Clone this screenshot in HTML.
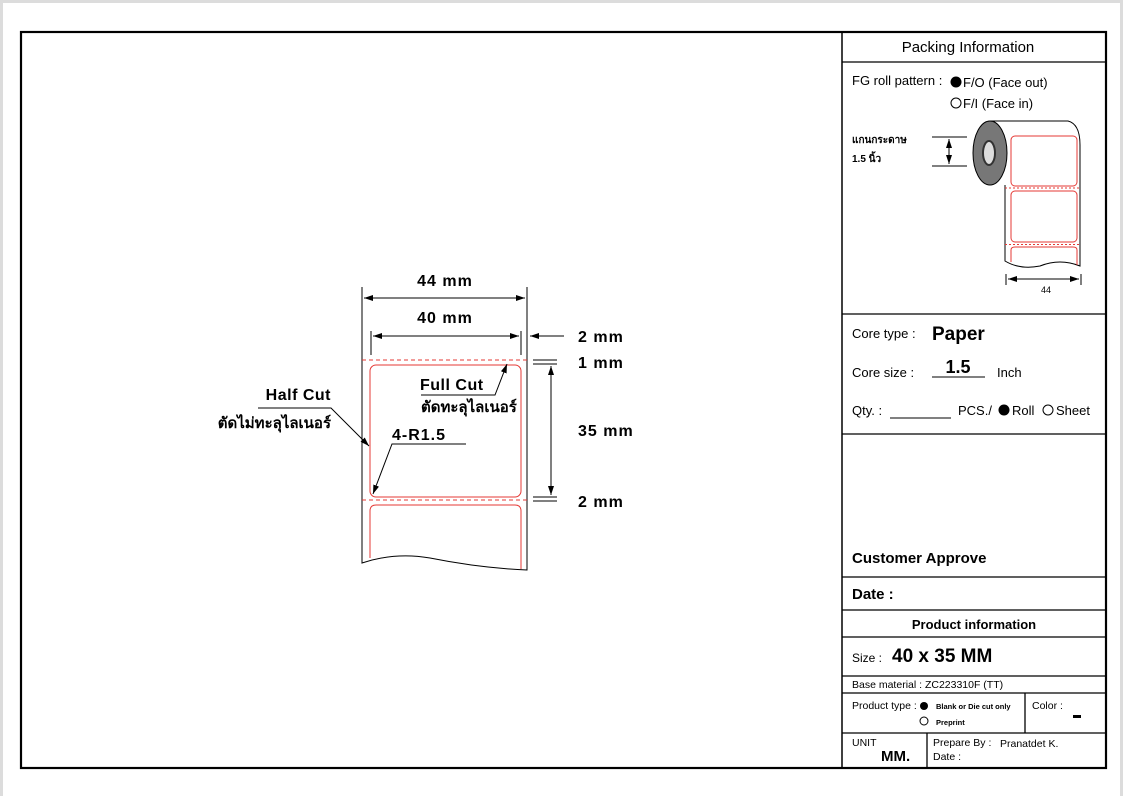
<!DOCTYPE html>
<html><head><meta charset="utf-8"><style>
html,body{margin:0;padding:0;background:#fff;}
svg{display:block;}
text{font-family:"Liberation Sans","Noto Sans CJK SC",sans-serif;}
.th{font-family:"Liberation Sans","Noto Sans CJK SC","WenQuanYi Zen Hei",sans-serif;}
</style></head><body>
<svg width="1123" height="796" viewBox="0 0 1123 796" xmlns="http://www.w3.org/2000/svg">
<defs>
<marker id="a" markerWidth="10" markerHeight="8" refX="9" refY="4" orient="auto" markerUnits="userSpaceOnUse"><path d="M0,1 L9,4 L0,7 Z" fill="#000"/></marker>
<marker id="b" markerWidth="10" markerHeight="8" refX="1" refY="4" orient="auto" markerUnits="userSpaceOnUse"><path d="M10,1 L1,4 L10,7 Z" fill="#000"/></marker>
</defs>
<rect x="0" y="0" width="1123" height="3" fill="#dcdcdc"/>
<rect x="0" y="0" width="3" height="796" fill="#dcdcdc"/>
<rect x="1120" y="0" width="3" height="796" fill="#dcdcdc"/>
<rect x="21" y="32" width="1085" height="736" fill="none" stroke="#000" stroke-width="2.2"/>
<line x1="842" y1="32" x2="842" y2="768" stroke="#000" stroke-width="1.5"/>
<g stroke="#000" stroke-width="1.3">
<line x1="842" y1="62" x2="1106" y2="62"/>
<line x1="842" y1="314" x2="1106" y2="314"/>
<line x1="842" y1="434" x2="1106" y2="434"/>
<line x1="842" y1="577" x2="1106" y2="577"/>
<line x1="842" y1="610" x2="1106" y2="610"/>
<line x1="842" y1="637" x2="1106" y2="637"/>
<line x1="842" y1="676" x2="1106" y2="676"/>
<line x1="842" y1="693" x2="1106" y2="693"/>
<line x1="842" y1="733" x2="1106" y2="733"/>
<line x1="1025" y1="693" x2="1025" y2="733"/>
<line x1="927" y1="733" x2="927" y2="768"/>
</g>
<text x="968" y="52" font-size="15" text-anchor="middle">Packing Information</text>
<text x="852" y="85" font-size="13">FG roll pattern :</text>
<circle cx="956" cy="82" r="5.5" fill="#000"/>
<text x="963" y="87" font-size="13">F/O (Face out)</text>
<circle cx="956" cy="103" r="5" fill="none" stroke="#000"/>
<text x="963" y="108" font-size="13">F/I (Face in)</text>
<text x="852" y="143" font-size="10" font-weight="bold" class="th">แกนกระดาษ</text>
<text x="852" y="162" font-size="10" font-weight="bold" class="th">1.5 นิ้ว</text>
<g stroke="#000" stroke-width="1">
<line x1="932" y1="137" x2="967" y2="137"/>
<line x1="932" y1="166" x2="967" y2="166"/>
<line x1="949" y1="139" x2="949" y2="164" marker-start="url(#b)" marker-end="url(#a)"/>
</g>
<path d="M990,121 L1068,121 Q1080,124 1080,145 L1080,266 Q1060,258 1040,266 Q1020,270 1005,261 L1005,185" fill="#fff" stroke="#000" stroke-width="1"/>
<g fill="none" stroke="#e53935" stroke-width="1">
<rect x="1011" y="136" width="66" height="50" rx="4"/>
<rect x="1011" y="191" width="66" height="51" rx="4"/>
<path d="M1011,262 L1011,250 Q1011,247 1015,247 L1073,247 Q1077,247 1077,250 L1077,265"/>
<line x1="1005" y1="188" x2="1080" y2="188" stroke-dasharray="2,2"/>
<line x1="1005" y1="244.5" x2="1080" y2="244.5" stroke-dasharray="2,2"/>
</g>
<ellipse cx="990" cy="153" rx="17" ry="32" fill="#777" stroke="#000"/>
<ellipse cx="989" cy="153" rx="6" ry="12" fill="#ddd" stroke="#333" stroke-width="2"/>
<g stroke="#000" stroke-width="1">
<line x1="1006" y1="274" x2="1006" y2="285"/>
<line x1="1081" y1="274" x2="1081" y2="285"/>
<line x1="1008" y1="279" x2="1079" y2="279" marker-start="url(#b)" marker-end="url(#a)"/>
</g>
<text x="1046" y="293" font-size="9" text-anchor="middle">44</text>

<text x="852" y="338" font-size="13">Core type :</text>
<text x="932" y="340" font-size="19" font-weight="bold">Paper</text>
<text x="852" y="377" font-size="13">Core size :</text>
<text x="958" y="373" font-size="18" font-weight="bold" text-anchor="middle">1.5</text>
<line x1="932" y1="377" x2="985" y2="377" stroke="#000"/>
<text x="997" y="377" font-size="13">Inch</text>
<text x="852" y="415" font-size="13">Qty. :</text>
<line x1="890" y1="418" x2="951" y2="418" stroke="#000"/>
<text x="958" y="415" font-size="13">PCS./</text>
<circle cx="1004" cy="410" r="5.5" fill="#000"/>
<text x="1012" y="415" font-size="13">Roll</text>
<circle cx="1048" cy="410" r="5" fill="none" stroke="#000"/>
<text x="1056" y="415" font-size="13">Sheet</text>

<text x="852" y="563" font-size="15" font-weight="bold">Customer Approve</text>
<text x="852" y="599" font-size="15" font-weight="bold">Date :</text>
<text x="974" y="629" font-size="13" font-weight="bold" text-anchor="middle">Product information</text>
<text x="852" y="662" font-size="12">Size :</text>
<text x="892" y="662" font-size="19" font-weight="bold">40 x 35 MM</text>
<text x="852" y="688" font-size="10.5">Base material : ZC223310F (TT)</text>
<text x="852" y="709" font-size="10.5">Product type :</text>
<circle cx="924" cy="706" r="4" fill="#000"/>
<text x="936" y="709" font-size="7.5" font-weight="bold">Blank or Die cut only</text>
<circle cx="924" cy="721" r="4" fill="none" stroke="#000"/>
<text x="936" y="725" font-size="7.5" font-weight="bold">Preprint</text>
<text x="1032" y="709" font-size="10.5">Color :</text>
<rect x="1073" y="715" width="8" height="3" fill="#000"/>
<text x="852" y="746" font-size="10.5">UNIT</text>
<text x="881" y="761" font-size="15" font-weight="bold">MM.</text>
<text x="933" y="746" font-size="10.5">Prepare By :</text>
<text x="1000" y="747" font-size="10.5">Pranatdet K.</text>
<text x="933" y="760" font-size="10.5">Date :</text>

<!-- left drawing -->
<path d="M362,287 L362,563 Q395,552 430,558 Q480,568 527,570 L527,287" fill="none" stroke="#000" stroke-width="1"/>
<g fill="none" stroke="#e53935" stroke-width="1">
<line x1="362" y1="360" x2="527" y2="360" stroke-dasharray="4,3"/>
<line x1="362" y1="500" x2="527" y2="500" stroke-dasharray="4,3"/>
<rect x="370" y="365" width="151" height="132" rx="6"/>
<path d="M370,558 L370,511 Q370,505 376,505 L515,505 Q521,505 521,511 L521,569"/>
</g>
<g stroke="#000" stroke-width="1">
<line x1="364" y1="298" x2="525" y2="298" marker-start="url(#b)" marker-end="url(#a)"/>
<line x1="371" y1="331" x2="371" y2="355"/>
<line x1="521" y1="331" x2="521" y2="355"/>
<line x1="373" y1="336" x2="519" y2="336" marker-start="url(#b)" marker-end="url(#a)"/>
<line x1="564" y1="336" x2="530" y2="336" marker-end="url(#a)"/>
<line x1="533" y1="360" x2="557" y2="360"/>
<line x1="533" y1="364" x2="557" y2="364"/>
<line x1="533" y1="497" x2="557" y2="497"/>
<line x1="533" y1="501" x2="557" y2="501"/>
<line x1="551" y1="366" x2="551" y2="495" marker-start="url(#b)" marker-end="url(#a)"/>
<polyline points="258,408 331,408 369,446" fill="none" marker-end="url(#a)"/>
<polyline points="421,395 495,395 507,364" fill="none" marker-end="url(#a)"/>
<polyline points="466,444 392,444 373,494" fill="none" marker-end="url(#a)"/>
</g>
<g font-weight="bold" font-size="16" letter-spacing="1">
<text x="445" y="286" text-anchor="middle">44 mm</text>
<text x="445" y="323" text-anchor="middle">40 mm</text>
<text x="578" y="342">2 mm</text>
<text x="578" y="368">1 mm</text>
<text x="578" y="436">35 mm</text>
<text x="578" y="507">2 mm</text>
<text x="331" y="400" text-anchor="end" font-size="16" letter-spacing="0.5">Half Cut</text>
<text x="420" y="390" font-size="16" letter-spacing="0.5">Full Cut</text>
<text x="392" y="440" font-size="16">4-R1.5</text>
<text x="331" y="428" text-anchor="end" font-size="15" letter-spacing="0" class="th">ตัดไม่ทะลุไลเนอร์</text>
<text x="421" y="412" font-size="15" letter-spacing="0" class="th">ตัดทะลุไลเนอร์</text>
</g>
</svg>
</body></html>
